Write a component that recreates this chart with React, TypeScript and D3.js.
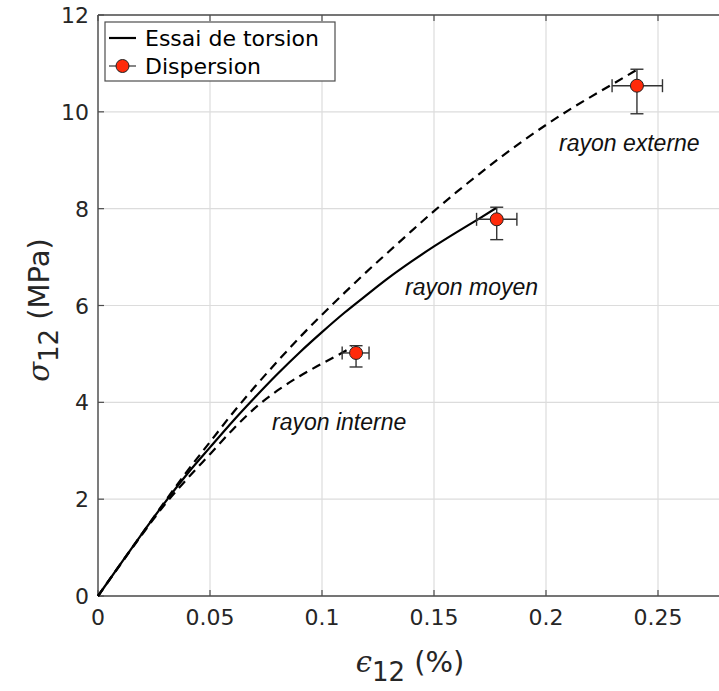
import React from "react";
import * as d3 from "d3";

const xTicks = [0, 0.05, 0.1, 0.15, 0.2, 0.25];
const yTicks = [0, 2, 4, 6, 8, 10, 12];

// rayon moyen (solid)
const moyenX = [0, 0.01, 0.02, 0.03, 0.04, 0.05, 0.06, 0.07, 0.08, 0.09, 0.1, 0.11, 0.12, 0.13, 0.14, 0.15, 0.16, 0.17, 0.178];
const moyenY = [0, 0.66, 1.31, 1.94, 2.53, 3.07, 3.6, 4.1, 4.58, 5.03, 5.45, 5.85, 6.22, 6.58, 6.91, 7.22, 7.51, 7.79, 8.02];
// rayon externe (dashed)
const externeX = [0, 0.01, 0.02, 0.03, 0.04, 0.05, 0.06, 0.07, 0.08, 0.09, 0.1, 0.11, 0.12, 0.13, 0.14, 0.15, 0.16, 0.17, 0.18, 0.19, 0.2, 0.21, 0.22, 0.23, 0.2406];
const externeY = [0, 0.66, 1.31, 1.96, 2.59, 3.18, 3.77, 4.32, 4.84, 5.34, 5.81, 6.26, 6.7, 7.12, 7.54, 7.95, 8.34, 8.71, 9.07, 9.41, 9.73, 10.03, 10.31, 10.58, 10.87];
// rayon interne (dashed)
const interneX = [0, 0.01, 0.02, 0.03, 0.04, 0.05, 0.06, 0.07, 0.08, 0.09, 0.1, 0.11, 0.1135];
const interneY = [0, 0.65, 1.29, 1.9, 2.43, 2.93, 3.43, 3.88, 4.24, 4.54, 4.8, 5.05, 5.15];

// dispersion points
const pointX = [0.1152, 0.178, 0.2406];
const pointY = [5.02, 7.78, 10.54];
const pointXLow = [0.109, 0.169, 0.2295];
const pointXHigh = [0.121, 0.187, 0.252];
const pointYLow = [4.73, 7.36, 9.96];
const pointYHigh = [5.17, 8.03, 10.88];

const labels = ["rayon interne", "rayon moyen", "rayon externe"];
const labelX = [0.0777, 0.1371, 0.2058];
const labelY = [3.43, 6.22, 9.19];

const W = 719;
const H = 691;

export default function App() {
  const x = d3.scaleLinear().domain([0, 0.28]).range([98, 98 + (0.28 / 0.05) * 112]);
  const y = d3.scaleLinear().domain([0, 12]).range([596, 15]);
  const line = d3
    .line<[number, number]>()
    .x((d) => x(d[0]))
    .y((d) => y(d[1]))
    .curve(d3.curveMonotoneX);
  const zip = (a: number[], b: number[]) => a.map((v, i) => [v, b[i]] as [number, number]);

  const axisColor = "#4d4d4d";
  const gridColor = "#dcdcdc";
  const tickFont = "DejaVu Sans, Verdana, sans-serif";
  const cap = 6.5;

  return (
    <svg width={W} height={H} style={{ position: "absolute", left: 0, top: 0, background: "#fff" }}>
      <rect x={0} y={0} width={W} height={H} fill="#fff" />
      {/* grid */}
      {xTicks.map((t) => (
        <line key={"gx" + t} x1={x(t)} x2={x(t)} y1={y(0)} y2={y(12)} stroke={gridColor} strokeWidth={1.2} />
      ))}
      {yTicks.map((t) => (
        <line key={"gy" + t} x1={x(0)} x2={W} y1={y(t)} y2={y(t)} stroke={gridColor} strokeWidth={1.2} />
      ))}
      {/* axes */}
      <line x1={x(0)} x2={W} y1={y(0)} y2={y(0)} stroke={axisColor} strokeWidth={1.4} />
      <line x1={x(0)} x2={W} y1={y(12)} y2={y(12)} stroke={axisColor} strokeWidth={1.4} />
      <line x1={x(0)} x2={x(0)} y1={y(0)} y2={y(12)} stroke={axisColor} strokeWidth={1.4} />
      {xTicks.map((t) => (
        <g key={"tx" + t}>
          <line x1={x(t)} x2={x(t)} y1={y(0)} y2={y(0) - 6} stroke={axisColor} strokeWidth={1.2} />
          <line x1={x(t)} x2={x(t)} y1={y(12)} y2={y(12) + 6} stroke={axisColor} strokeWidth={1.2} />
          <text x={x(t)} y={y(0) + 29} textAnchor="middle" fontFamily={tickFont} fontSize={22} fill="#262626">
            {String(t)}
          </text>
        </g>
      ))}
      {yTicks.map((t) => (
        <g key={"ty" + t}>
          <line x1={x(0)} x2={x(0) + 6} y1={y(t)} y2={y(t)} stroke={axisColor} strokeWidth={1.2} />
          <text x={89} y={y(t) + 8} textAnchor="end" fontFamily={tickFont} fontSize={22} fill="#262626">
            {String(t)}
          </text>
        </g>
      ))}
      {/* curves */}
      <path d={line(zip(externeX, externeY)) || ""} fill="none" stroke="#000" strokeWidth={2.2} strokeDasharray="9,6" />
      <path d={line(zip(interneX, interneY)) || ""} fill="none" stroke="#000" strokeWidth={2.2} strokeDasharray="9,6" />
      <path d={line(zip(moyenX, moyenY)) || ""} fill="none" stroke="#000" strokeWidth={2.2} />
      {/* error bars */}
      {pointX.map((px, i) => (
        <g key={"p" + i} stroke="#333" strokeWidth={1.4}>
          <line x1={x(pointXLow[i])} x2={x(pointXHigh[i])} y1={y(pointY[i])} y2={y(pointY[i])} />
          <line x1={x(pointXLow[i])} x2={x(pointXLow[i])} y1={y(pointY[i]) - cap} y2={y(pointY[i]) + cap} />
          <line x1={x(pointXHigh[i])} x2={x(pointXHigh[i])} y1={y(pointY[i]) - cap} y2={y(pointY[i]) + cap} />
          <line x1={x(px)} x2={x(px)} y1={y(pointYLow[i])} y2={y(pointYHigh[i])} />
          <line x1={x(px) - cap} x2={x(px) + cap} y1={y(pointYLow[i])} y2={y(pointYLow[i])} />
          <line x1={x(px) - cap} x2={x(px) + cap} y1={y(pointYHigh[i])} y2={y(pointYHigh[i])} />
          <circle cx={x(px)} cy={y(pointY[i])} r={6.5} fill="#ff2a0a" stroke="#222" strokeWidth={1} />
        </g>
      ))}
      {/* annotations */}
      {labels.map((l, i) => (
        <text key={l} x={x(labelX[i])} y={y(labelY[i])} fontFamily="Liberation Sans, Arial, sans-serif" fontStyle="italic" fontSize={23} fill="#111">
          {l}
        </text>
      ))}
      {/* legend */}
      <g>
        <rect x={105} y={22} width={230} height={59} fill="#fff" stroke={axisColor} strokeWidth={1.2} />
        <line x1={109} x2={136} y1={38} y2={38} stroke="#000" strokeWidth={2.2} />
        <text x={145} y={46} fontFamily={tickFont} fontSize={22} fill="#000">Essai de torsion</text>
        <line x1={109} x2={136} y1={66} y2={66} stroke="#333" strokeWidth={1.2} />
        <circle cx={122.5} cy={66} r={6.5} fill="#ff2a0a" stroke="#222" strokeWidth={1} />
        <text x={145} y={74} fontFamily={tickFont} fontSize={22} fill="#000">Dispersion</text>
      </g>
      {/* axis labels */}
      <text x={410} y={672} textAnchor="middle" fontFamily={tickFont} fontSize={29} fill="#262626">
        <tspan fontStyle="italic" fontFamily="DejaVu Serif, serif">ϵ</tspan>
        <tspan fontSize={26} dy={9}>12</tspan>
        <tspan dy={-9}> (%)</tspan>
      </text>
      <text transform="translate(49,310) rotate(-90)" textAnchor="middle" fontFamily={tickFont} fontSize={29} fill="#262626">
        <tspan fontStyle="italic" fontFamily="DejaVu Serif, serif">σ</tspan>
        <tspan fontSize={26} dy={9}>12</tspan>
        <tspan dy={-9}> (MPa)</tspan>
      </text>
    </svg>
  );
}
